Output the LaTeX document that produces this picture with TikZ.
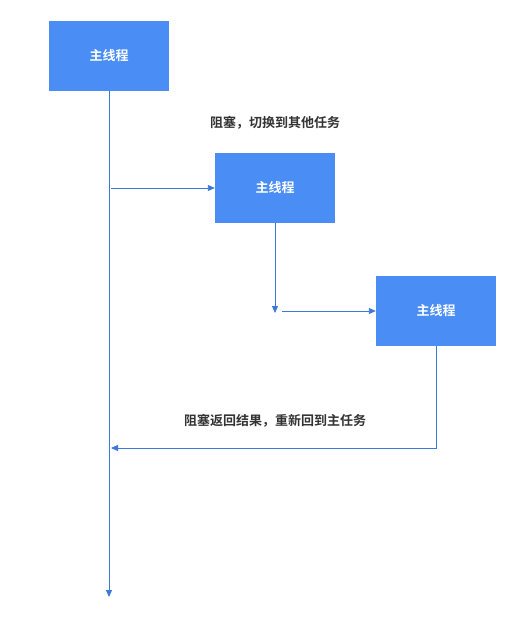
\documentclass[tikz,border=0pt]{standalone}
\usepackage{fontspec}
\newfontfamily\cjk{Noto Sans CJK SC}[BoldFont={Noto Sans CJK SC Bold}]
\usetikzlibrary{arrows.meta}
\definecolor{boxblue}{HTML}{4A8EF5}
\definecolor{lineblue}{HTML}{3C78D8}
\definecolor{txt}{HTML}{333333}
\tikzset{
  thread/.style={fill=boxblue, draw=none, minimum width=120pt, minimum height=70pt, inner sep=0pt, text=white, font=\cjk\bfseries\fontsize{13}{15}\selectfont},
  lbl/.style={text=txt, inner sep=0pt, font=\cjk\bfseries\fontsize{13}{15}\selectfont},
  conn/.style={draw=lineblue, line width=0.9pt, -{Triangle[length=7pt,width=6pt]}},
  plain/.style={draw=lineblue, line width=0.9pt}
}
\begin{document}
\begin{tikzpicture}[x=1pt,y=-1pt]
\useasboundingbox (0,0) rectangle (529,621);
\node[thread] (t1) at (109,56) {主线程};
\node[thread] (t2) at (275,188) {主线程};
\node[thread] (t3) at (436,311) {主线程};
\coordinate (mainend) at (109,597);
\coordinate (s1) at (111,188);
\coordinate (d2) at (275,313);
\coordinate (s2) at (282,311);
\coordinate (c3) at (436,448);
\coordinate (e3) at (111,448);
\draw[conn] (t1.south) -- (mainend);
\draw[conn] (s1) -- (t2.west);
\draw[conn] (t2.south) -- (d2);
\draw[conn] (s2) -- (t3.west);
\draw[conn] (t3.south) -- (c3) -- (e3);
\node[lbl] (l1) at (275,123) {阻塞，切换到其他任务};
\node[lbl] (l2) at (275,421) {阻塞返回结果，重新回到主任务};
\end{tikzpicture}
\end{document}
